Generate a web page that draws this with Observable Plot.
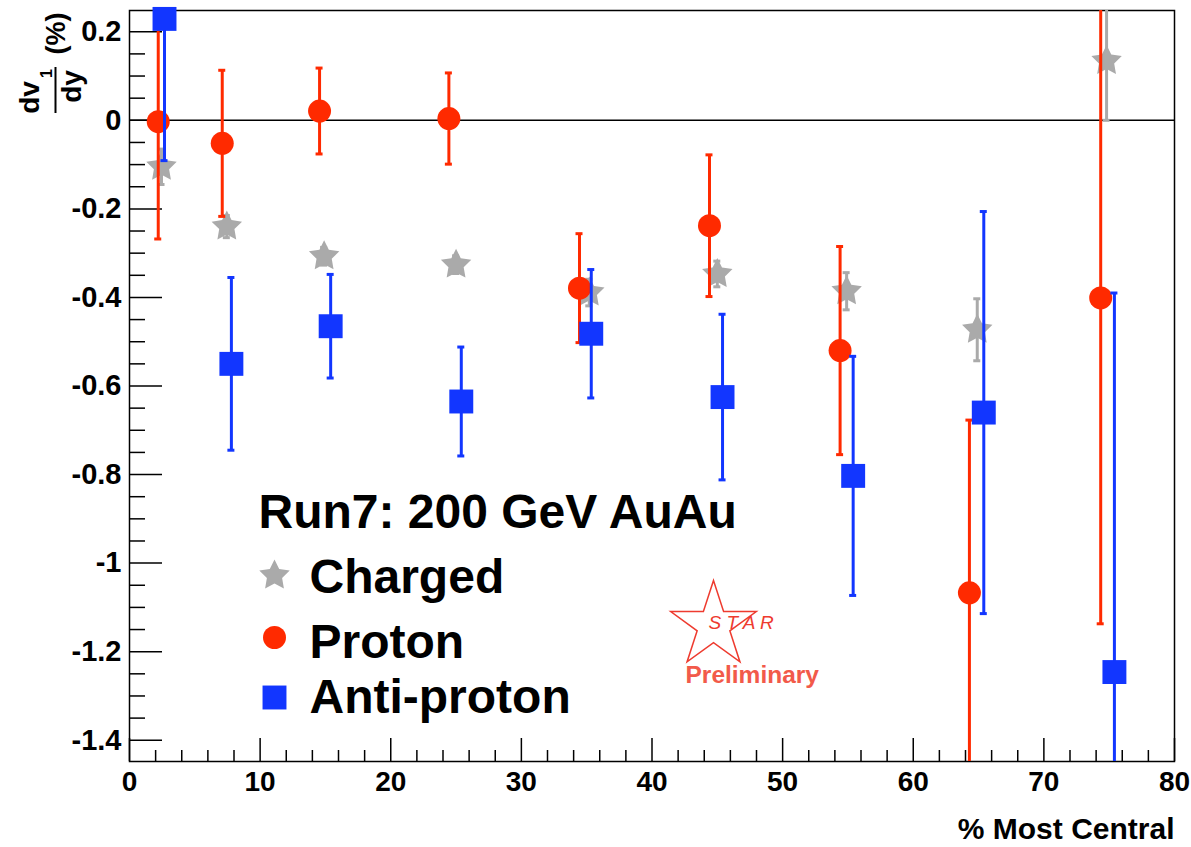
<!DOCTYPE html>
<html>
<head>
<meta charset="utf-8">
<script src="https://cdn.jsdelivr.net/npm/d3@7"></script>
<script src="https://cdn.jsdelivr.net/npm/@observablehq/plot@0.6"></script>
<style>
  html, body { margin: 0; padding: 0; background: #fff; }
  #chart svg { display: block; }
</style>
</head>
<body>
<div id="chart"></div>
<script>
// ---- data ----
const chargedX   = [2.45, 7.45, 14.9, 25.0, 35.2, 45.0, 54.9, 64.9, 74.8];
const chargedY   = [-0.105, -0.24, -0.307, -0.326, -0.389, -0.347, -0.386, -0.473, 0.134];
const chargedErr = [0.04, 0.025, 0.02, 0.02, 0.03, 0.029, 0.042, 0.07, 0.134];

const protonX    = [2.2, 7.1, 14.55, 24.45, 34.45, 44.4, 54.4, 64.3, 74.35];
const protonY    = [-0.003, -0.052, 0.021, 0.004, -0.379, -0.238, -0.52, -1.067, -0.401];
const protonErr  = [0.265, 0.165, 0.097, 0.103, 0.123, 0.16, 0.235, 0.39, 0.736];

const antiX      = [2.68, 7.8, 15.4, 25.4, 35.35, 45.4, 55.4, 65.4, 75.4];
const antiY      = [0.229, -0.55, -0.465, -0.635, -0.482, -0.625, -0.803, -0.66, -1.246];
const antiErr    = [0.32, 0.195, 0.117, 0.123, 0.145, 0.187, 0.27, 0.454, 0.856];

const xTicks      = [0, 10, 20, 30, 40, 50, 60, 70, 80];
const xMinorTicks = [2,4,6,8,12,14,16,18,22,24,26,28,32,34,36,38,42,44,46,48,52,54,56,58,62,64,66,68,72,74,76,78];
const yTicks      = [0.2, 0, -0.2, -0.4, -0.6, -0.8, -1, -1.2, -1.4];
const yMinorTicks = [0.15,0.1,0.05,-0.05,-0.1,-0.15,-0.25,-0.3,-0.35,-0.45,-0.5,-0.55,-0.65,-0.7,-0.75,
                     -0.85,-0.9,-0.95,-1.05,-1.1,-1.15,-1.25,-1.3,-1.35];
const xDomain = [0, 80];
const yDomain = [-1.448, 0.248];

const legendTitle  = "Run7: 200 GeV AuAu";
const legendLabels = ["Charged", "Proton", "Anti-proton"];
const xTitle = "% Most Central";

// ---- styling ----
const FONT = "'Liberation Sans', Arial, Helvetica, sans-serif";
const RED = "#ff2a00", BLUE = "#1236ff", GREY = "#aaaaaa", LOGO = "#ee3b2f";
const W = 1191, H = 847, ML = 129, MR = 17, MT = 10, MB = 86;
const FW = W - ML - MR, FH = H - MT - MB;

// a fatter five-pointed star (ROOT-like full star marker); r = outer radius
const fatStar = {
  draw(ctx, size) {
    const R = Math.sqrt(size / Math.PI), ri = R * 0.5;
    for (let k = 0; k < 10; ++k) {
      const a = Math.PI * k / 5, rr = k % 2 ? ri : R;
      const px = rr * Math.sin(a), py = -rr * Math.cos(a);
      if (k === 0) ctx.moveTo(px, py); else ctx.lineTo(px, py);
    }
    ctx.closePath();
  }
};

const rows = (xs, ys, es) => xs.map((x, i) => ({x, y: ys[i], lo: ys[i] - es[i], hi: ys[i] + es[i]}));
const charged = rows(chargedX, chargedY, chargedErr);
const proton  = rows(protonX, protonY, protonErr);
const anti    = rows(antiX, antiY, antiErr);

function series(data, color, symbol, r) {
  return [
    Plot.ruleX(data, {x: "x", y1: "lo", y2: "hi", stroke: color, strokeWidth: 3, clip: true}),
    Plot.ruleY(data, {y: "lo", x1: "x", x2: "x", insetLeft: -3.5, insetRight: -3.5, stroke: color, strokeWidth: 3, clip: true}),
    Plot.ruleY(data, {y: "hi", x1: "x", x2: "x", insetLeft: -3.5, insetRight: -3.5, stroke: color, strokeWidth: 3, clip: true}),
    Plot.dot(data, {x: "x", y: "y", symbol, r, fill: color, stroke: "none"})
  ];
}

// anchor for annotations: top-left corner of the frame
const corner = [{x: xDomain[0], y: yDomain[1]}];
function cornerText(str, opts) {
  return Plot.text([str], {x: () => xDomain[0], y: () => yDomain[1], text: d => d, fill: "black", ...opts});
}
function cornerDot(opts) {
  return Plot.dot(corner, {x: "x", y: "y", ...opts});
}

const chart = Plot.plot({
  width: W,
  height: H,
  marginLeft: ML,
  marginRight: MR,
  marginTop: MT,
  marginBottom: MB,
  style: {background: "white", fontFamily: FONT, overflow: "visible"},
  x: {domain: xDomain, axis: null},
  y: {domain: yDomain, axis: null},
  marks: [
    Plot.frame({stroke: "black", strokeWidth: 1.5}),
    Plot.ruleY([0], {stroke: "black", strokeWidth: 1.5}),
    // ticks inside the frame
    Plot.ruleY(yTicks, {y: d => d, insetRight: FW - 33, stroke: "black", strokeWidth: 1.5}),
    Plot.ruleY(yMinorTicks, {y: d => d, insetRight: FW - 16, stroke: "black", strokeWidth: 1.5}),
    Plot.ruleX(xTicks, {x: d => d, insetTop: FH - 23, stroke: "black", strokeWidth: 1.5}),
    Plot.ruleX(xMinorTicks, {x: d => d, insetTop: FH - 11, stroke: "black", strokeWidth: 1.5}),
    // tick labels
    Plot.text(yTicks, {y: d => d, x: () => xDomain[0], text: d => String(+d.toFixed(1)), textAnchor: "end",
      dx: -8, fontSize: 29, fontWeight: "bold", fill: "black"}),
    Plot.text(xTicks, {x: d => d, y: () => yDomain[0], text: d => String(d), lineAnchor: "top",
      dy: 10, fontSize: 28, fontWeight: "bold", fill: "black"}),
    // data
    ...series(charged, GREY, fatStar, 16),
    ...series(proton, RED, "circle", 11.5),
    ...series(anti, BLUE, "square", 13.5),
    // x title
    Plot.text([xTitle], {x: () => xDomain[1], y: () => yDomain[0], text: d => d, textAnchor: "end",
      lineAnchor: "bottom", dy: 77, fontSize: 30, fontWeight: "bold", fill: "black"}),
    // y title: dv1/dy (%)
    cornerText("dv", {rotate: -90, textAnchor: "middle", lineAnchor: "bottom", dx: -91, dy: 87, fontSize: 28, fontWeight: "bold"}),
    cornerText("1",  {rotate: -90, textAnchor: "middle", lineAnchor: "bottom", dx: -78, dy: 63, fontSize: 16, fontWeight: "bold"}),
    Plot.ruleX([xDomain[0]], {x: d => d, dx: -74, insetTop: 57, insetBottom: FH - 103, stroke: "black", strokeWidth: 2}),
    cornerText("dy", {rotate: -90, textAnchor: "middle", lineAnchor: "bottom", dx: -49, dy: 76, fontSize: 28, fontWeight: "bold"}),
    cornerText("(%)", {rotate: -90, textAnchor: "middle", lineAnchor: "bottom", dx: -65, dy: 23, fontSize: 27, fontWeight: "bold"}),
    // legend
    cornerText(legendTitle, {textAnchor: "start", lineAnchor: "bottom", dx: 129, dy: 517, fontSize: 48, fontWeight: "bold"}),
    cornerDot({symbol: fatStar, r: 16, fill: GREY, stroke: "none", dx: 145, dy: 565}),
    cornerDot({symbol: "circle", r: 11.5, fill: RED, stroke: "none", dx: 145, dy: 627}),
    cornerDot({symbol: "square", r: 13.5, fill: BLUE, stroke: "none", dx: 145, dy: 687}),
    cornerText(legendLabels[0], {textAnchor: "start", lineAnchor: "bottom", dx: 180, dy: 582, fontSize: 48, fontWeight: "bold"}),
    cornerText(legendLabels[1], {textAnchor: "start", lineAnchor: "bottom", dx: 180, dy: 647, fontSize: 48, fontWeight: "bold"}),
    cornerText(legendLabels[2], {textAnchor: "start", lineAnchor: "bottom", dx: 180, dy: 702, fontSize: 48, fontWeight: "bold"}),
    // STAR Preliminary logo
    cornerDot({symbol: "star", r: 26.9, fill: "none", stroke: LOGO, strokeWidth: 1.5, dx: 584, dy: 615}),
    cornerText("S T A R", {textAnchor: "start", lineAnchor: "bottom", dx: 579, dy: 618, fontSize: 19, fontStyle: "italic", fill: LOGO}),
    cornerText("Preliminary", {textAnchor: "start", lineAnchor: "bottom", dx: 556, dy: 672, fontSize: 24.5, fontWeight: "bold", fill: "#f25a4a"})
  ]
});
document.getElementById("chart").appendChild(chart);
</script>
</body>
</html>
